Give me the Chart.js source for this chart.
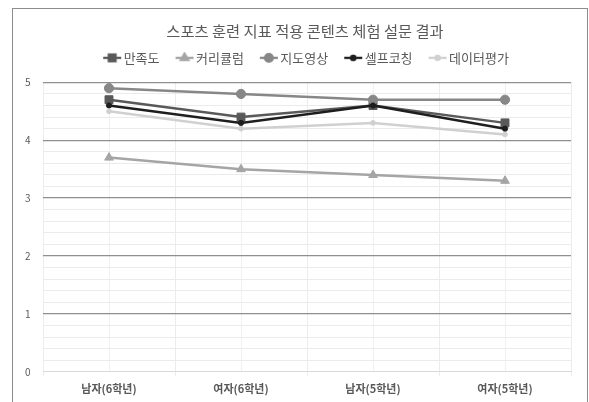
<!DOCTYPE html>
<html>
<head>
<meta charset="utf-8">
<script src="https://cdn.jsdelivr.net/npm/chart.js@4.4.1/dist/chart.umd.min.js"></script>
<style>
  html, body { margin: 0; padding: 0; background: #fff; }
  #wrap { position: relative; width: 589px; height: 402px; overflow: hidden; }
  #frame { position: absolute; left: 12px; top: 8px; width: 576px; height: 420px; border: 1px solid #8c8c8c; pointer-events: none; box-sizing: border-box; }
  canvas { position: absolute; left: 0; top: 0; }
</style>
</head>
<body>
<div id="wrap">
  <canvas id="c" width="589" height="402"></canvas>
  <div id="frame"></div>
</div>
<script>
// Survey results per respondent group
const categories = ['남자(6학년)', '여자(6학년)', '남자(5학년)', '여자(5학년)'];
const seriesNames = ['만족도', '커리큘럼', '지도영상', '셀프코칭', '데이터평가'];
const satisfaction = [4.7, 4.4, 4.6, 4.3];
const curriculum = [3.7, 3.5, 3.4, 3.3];
const guideVideo = [4.9, 4.8, 4.7, 4.7];
const selfCoaching = [4.6, 4.3, 4.6, 4.2];
const dataEvaluation = [4.5, 4.2, 4.3, 4.1];
const yTickLabels = [0, 1, 2, 3, 4, 5];

const seriesValues = [satisfaction, curriculum, guideVideo, selfCoaching, dataEvaluation];
const seriesColors = ['#595959', '#a5a5a5', '#878787', '#1e1e1e', '#d0d0d0'];
const seriesMarkers = ['rect', 'triangle', 'circle', 'circle', 'circle'];
const seriesMarkerSize = [5.6, 5, 4.6, 2.6, 2.4];

const FONT = '"Noto Sans CJK KR", "Noto Sans", sans-serif';
const TEXT = '#595959';

// legend swatch: short line with the series marker in the middle,
// drawn toward the right of the image so it sits close to the label
const SWATCH_BOX = 16;
function legendSwatch(i) {
  const cv = document.createElement('canvas');
  cv.width = 26; cv.height = 12;
  const g = cv.getContext('2d');
  g.strokeStyle = seriesColors[i];
  g.fillStyle = seriesColors[i];
  g.lineWidth = 2.3;
  g.beginPath(); g.moveTo(7, 6); g.lineTo(25, 6); g.stroke();
  Chart.helpers.drawPoint(g, { pointStyle: seriesMarkers[i], radius: seriesMarkerSize[i] * 0.85, rotation: 0, borderWidth: 1 }, 16, 6);
  return cv;
}

const isWhole = v => Math.abs(v - Math.round(v)) < 1e-6;

const datasets = seriesNames.map((name, i) => ({
  label: name,
  data: seriesValues[i],
  borderColor: seriesColors[i],
  backgroundColor: seriesColors[i],
  borderWidth: 2.5,
  pointStyle: seriesMarkers[i],
  pointRadius: seriesMarkerSize[i],
  pointHoverRadius: seriesMarkerSize[i],
  pointBorderWidth: 1,
  tension: 0,
  order: seriesNames.length - i
}));

// extra room between the legend row and the plot
const legendGap = {
  id: 'legendGap',
  beforeInit(chart) {
    const fit = chart.legend.fit;
    chart.legend.fit = function () {
      fit.call(this);
      this.height += 8;
    };
  }
};

new Chart(document.getElementById('c'), {
  type: 'line',
  data: { labels: categories, datasets },
  plugins: [legendGap],
  options: {
    responsive: false,
    animation: false,
    devicePixelRatio: 1,
    layout: { padding: { left: 39, right: 18, top: 0, bottom: 1 } },
    plugins: {
      tooltip: { enabled: false },
      title: {
        display: true,
        text: '스포츠 훈련 지표 적용 콘텐츠 체험 설문 결과',
        color: TEXT,
        font: { family: FONT, size: 15.3, weight: 'normal' },
        padding: { top: 22, bottom: -3 }
      },
      legend: {
        position: 'top',
        labels: {
          usePointStyle: true,
          pointStyleWidth: SWATCH_BOX,
          padding: 14,
          color: TEXT,
          font: { family: FONT, size: 13 },
          generateLabels: chart => chart.data.datasets.map((ds, i) => ({
            text: ds.label,
            fillStyle: ds.backgroundColor,
            strokeStyle: ds.borderColor,
            lineWidth: 0,
            pointStyle: legendSwatch(i),
            fontColor: TEXT,
            hidden: false,
            datasetIndex: i
          }))
        }
      }
    },
    scales: {
      x: {
        type: 'category',
        offset: true,
        grid: { offset: true, color: '#ececec', lineWidth: 1, drawTicks: true, tickLength: 4 },
        border: { display: true, color: '#d9d9d9' },
        ticks: { color: TEXT, font: { family: FONT, size: 11, weight: 'bold' }, padding: 6, maxRotation: 0 }
      },
      xCenters: {
        type: 'category',
        position: 'bottom',
        offset: true,
        grid: { offset: false, color: '#f0f0f0', lineWidth: 1, drawTicks: false },
        border: { display: false },
        ticks: { display: false }
      },
      y: {
        min: 0,
        max: 5,
        afterFit: s => { s.width = 4; },
        grid: {
          drawTicks: false,
          color: c => (isWhole(c.tick.value) && c.tick.value !== 0) ? '#8f8f8f' : '#ebebeb',
          lineWidth: c => (isWhole(c.tick.value) && c.tick.value !== 0) ? 1.3 : 1
        },
        border: { display: false },
        ticks: {
          stepSize: 0.2,
          maxTicksLimit: 40,
          autoSkip: false,
          mirror: true,
          padding: -18,
          color: TEXT,
          font: { family: FONT, size: 10 },
          callback: v => {
            const r = Math.round(v);
            return (isWhole(v) && yTickLabels.includes(r)) ? String(r) : '';
          }
        }
      }
    }
  }
});
</script>
</body>
</html>
